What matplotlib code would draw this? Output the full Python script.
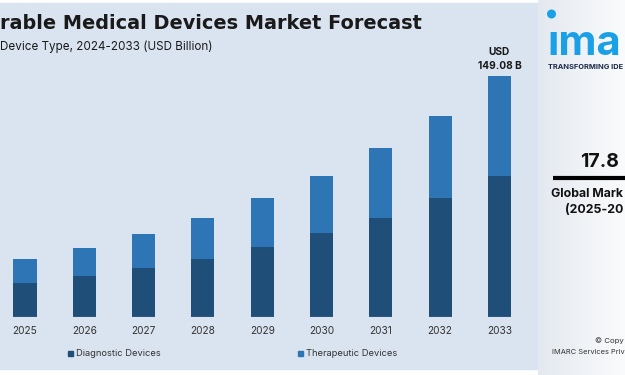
import matplotlib
matplotlib.use("Agg")
import matplotlib.pyplot as plt
from matplotlib.patches import Rectangle, Circle
import numpy as np

# data (USD Billion)
years = ["2025", "2026", "2027", "2028", "2029", "2030", "2031", "2032", "2033"]
diagnostic = [21.1, 25.2, 30.0, 35.7, 43.2, 51.7, 61.3, 73.5, 87.3]
therapeutic = [14.6, 17.5, 21.2, 25.6, 30.1, 35.6, 43.0, 51.0, 61.78]
series_names = ["Diagnostic Devices", "Therapeutic Devices"]
end_label = "USD\n149.08 B"

dark = "#1f4e79"
light = "#2e75b6"
bgcol = "#dae3f0"

plt.rcParams['font.family'] = ['Inter', 'DejaVu Sans']

W, H = 625, 375
fig = plt.figure(figsize=(6.25, 3.75), dpi=100)
fig.patch.set_facecolor("white")
renderer = fig.canvas.get_renderer()


def fit(t, width):
    # scale the font so the text takes the width seen in the picture
    w = t.get_window_extent(renderer=renderer).width
    t.set_fontsize(t.get_fontsize() * width / w)


# background axes in pixel coords
bg = fig.add_axes([0, 0, 1, 1])
bg.set_xlim(0, W)
bg.set_ylim(H, 0)
bg.axis("off")
bg.add_patch(Rectangle((0, 3), 538, 366, color=bgcol, zorder=0))

# the picture is cropped: only the visible part of the heading is shown
t = bg.text(0.5, 29, "rable Medical Devices Market Forecast", ha="left", va="baseline",
            fontsize=12, fontweight="bold", color="#1a1a1a", family="DejaVu Sans")
fit(t, 418)
t = bg.text(0, 50, "Device Type, 2024-2033 (USD Billion)", ha="left", va="baseline",
            fontsize=8.5, color="#1a1a1a")
fit(t, 213)

# bars
ax = fig.add_axes([0, 58.3 / H, 530 / W, 256.7 / H])
ax.patch.set_alpha(0)
x = np.arange(len(years))
ax.bar(x, diagnostic, width=0.39, color=dark, label=series_names[0])
ax.bar(x, therapeutic, width=0.39, bottom=diagnostic, color=light, label=series_names[1])
ax.set_xlim(-0.4216, 8.516)
ax.set_ylim(0, 159)
ax.set_xticks(x)
ax.set_xticklabels(years, fontsize=7.3, color="#333333")
ax.tick_params(axis="x", length=0, pad=7)
ax.set_yticks([])
for s in ax.spines.values():
    s.set_visible(False)
ax.axhline(0, color="#e8eef6", lw=0.8)
tot = diagnostic[-1] + therapeutic[-1]
ax.text(x[-1], tot + 3, end_label, ha="center", va="bottom", fontsize=7.3,
        fontweight="bold", color="#1a1a1a", linespacing=1.5)

# legend drawn by hand
for px, name, c in [(68.3, series_names[0], dark), (297.7, series_names[1], light)]:
    bg.add_patch(Rectangle((px, 350.5), 5, 5, color=c))
    bg.text(px + 8, 353, name, ha="left", va="center", fontsize=6.7, color="#333333")

# right panel (also cropped at the right edge)
pn = fig.add_axes([538 / W, 0, 87 / W, 1])
grad = np.linspace(0, 1, 100)[None, :]
pn.imshow(np.tile(grad, (100, 1)), extent=[538, 625, H, 0], aspect="auto",
          cmap=matplotlib.colors.LinearSegmentedColormap.from_list("g", ["#e4e9f0", "#fafbfc"]),
          zorder=0)
pn.set_xlim(538, 625)
pn.set_ylim(H, 0)
pn.axis("off")

pn.text(547, 55, "\u0131ma", ha="left", va="baseline", fontsize=30, fontweight="bold",
        color="#1aa0e6", clip_on=True)
pn.add_patch(Circle((551.5, 14), 3.8, color="#1aa0e6"))
t = pn.text(548, 69, "TRANSFORMING IDE", ha="left", va="baseline", fontsize=5.5,
            fontweight="bold", color="#1c2b4a")
fit(t, 75)
pn.text(580, 167, "17.8", ha="left", va="baseline", fontsize=14, fontweight="bold",
        color="#111111")
pn.plot([553, 625], [178.3, 178.3], color="black", lw=3, solid_capstyle="butt")
t = pn.text(551, 194, "Global Mark", ha="left", va="center", fontsize=9,
            fontweight="bold", color="#111111")
fit(t, 72)
t = pn.text(565, 210, "(2025-20", ha="left", va="center", fontsize=9,
            fontweight="bold", color="#111111")
fit(t, 58)
pn.text(595, 341, "\u00a9 Copy", ha="left", va="center", fontsize=5.6,
        color="#333333")
t = pn.text(551.7, 352.5, "IMARC Services Priv", ha="left", va="center", fontsize=5.6,
            color="#333333")
fit(t, 72)

fig.savefig("out.png", dpi=100)
